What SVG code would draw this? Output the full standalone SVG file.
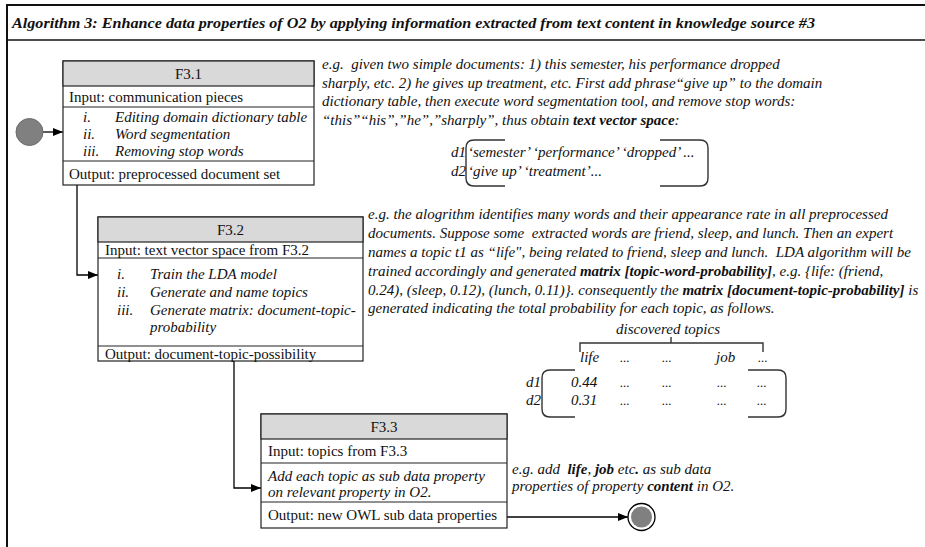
<svg xmlns="http://www.w3.org/2000/svg" width="925" height="547" viewBox="0 0 925 547">
<defs>
<marker id="arr" viewBox="0 0 10 8" refX="10" refY="4" markerWidth="10" markerHeight="8" markerUnits="userSpaceOnUse" orient="auto">
<path d="M0,0 L10,4 L0,8 Z" fill="#000"/>
</marker>
<style>
text{font-family:"Liberation Serif","Times New Roman",serif;font-size:15px;fill:#111;white-space:pre}
.it{font-style:italic}
.b{font-weight:bold}
.box{fill:#fff;stroke:#222;stroke-width:1.2}
.hd{fill:#d9d9d9;stroke:#222;stroke-width:1.2}
.ln{fill:none;stroke:#000;stroke-width:1.3}
.br{fill:none;stroke:#333;stroke-width:1.4}
.sm{font-size:13px}
</style>
</defs>
<rect width="925" height="547" fill="#fff"/>
<g id="frame">
<line x1="7" y1="5" x2="925" y2="5" stroke="#111" stroke-width="2"/>
<line x1="7" y1="40" x2="925" y2="40" stroke="#111" stroke-width="1.5"/>
<line x1="7" y1="4" x2="7" y2="547" stroke="#111" stroke-width="2"/>
<text x="12" y="28" class="it b" textLength="803" lengthAdjust="spacingAndGlyphs">Algorithm 3: Enhance data properties of O2 by applying information extracted from text content in knowledge source #3</text>
</g>
<g id="connectors">
<line x1="43" y1="132" x2="63" y2="132" class="ln" marker-end="url(#arr)"/>
<path d="M77,185 V275 H98" class="ln" marker-end="url(#arr)"/>
<path d="M234,361 V488 H261" class="ln" marker-end="url(#arr)"/>
<line x1="507" y1="517" x2="628" y2="517" class="ln" marker-end="url(#arr)"/>
</g>
<g id="start">
<circle cx="29.5" cy="132" r="13.5" fill="#808080" stroke="#6a6a6a" stroke-width="1"/>
</g>
<g id="end">
<circle cx="641.5" cy="517" r="13.5" fill="#fff" stroke="#000" stroke-width="1.3"/>
<circle cx="641.5" cy="517" r="10.5" fill="#808080"/>
</g>
<g id="F3.1">
<rect x="63" y="61" width="251" height="124" class="box"/>
<rect x="63" y="61" width="251" height="25" class="hd"/>
<line x1="63" y1="107" x2="314" y2="107" stroke="#222" stroke-width="1.2"/>
<line x1="63" y1="161" x2="314" y2="161" stroke="#222" stroke-width="1.2"/>
<text x="188.5" y="78.5" text-anchor="middle">F3.1</text>
<text x="69" y="101.5">Input: communication pieces</text>
<text x="83" y="122" class="it">i.</text><text x="115" y="122" class="it">Editing domain dictionary table</text>
<text x="83" y="139" class="it">ii.</text><text x="115" y="139" class="it">Word segmentation</text>
<text x="83" y="156" class="it">iii.</text><text x="115" y="156" class="it">Removing stop words</text>
<text x="69" y="178.5">Output: preprocessed document set</text>
</g>
<g id="F3.2">
<rect x="98" y="217" width="265" height="144" class="box"/>
<rect x="98" y="217" width="265" height="25" class="hd"/>
<line x1="98" y1="258" x2="363" y2="258" stroke="#222" stroke-width="1.2"/>
<line x1="98" y1="346" x2="363" y2="346" stroke="#222" stroke-width="1.2"/>
<text x="230.5" y="234.5" text-anchor="middle">F3.2</text>
<text x="105" y="255">Input: text vector space from F3.2</text>
<text x="117" y="279" class="it">i.</text><text x="150" y="279" class="it">Train the LDA model</text>
<text x="117" y="297" class="it">ii.</text><text x="150" y="297" class="it">Generate and name topics</text>
<text x="117" y="315" class="it">iii.</text><text x="150" y="315" class="it">Generate matrix: document-topic-</text>
<text x="150" y="332" class="it">probability</text>
<text x="105" y="358.5">Output: document-topic-possibility</text>
</g>
<g id="F3.3">
<rect x="261" y="414" width="246" height="114" class="box"/>
<rect x="261" y="414" width="246" height="25" class="hd"/>
<line x1="261" y1="463" x2="507" y2="463" stroke="#222" stroke-width="1.2"/>
<line x1="261" y1="502" x2="507" y2="502" stroke="#222" stroke-width="1.2"/>
<text x="384" y="431.5" text-anchor="middle">F3.3</text>
<text x="268" y="456">Input: topics from F3.3</text>
<text x="268" y="481" class="it">Add each topic as sub data property</text>
<text x="268" y="497" class="it">on relevant property in O2.</text>
<text x="268" y="520">Output: new OWL sub data properties</text>
</g>
<g id="note1">
<text x="322" y="69" class="it">e.g.  given two simple documents: 1) this semester, his performance dropped</text>
<text x="322" y="88" class="it">sharply, etc. 2) he gives up treatment, etc. First add phrase“give up” to the domain</text>
<text x="322" y="106" class="it">dictionary table, then execute word segmentation tool, and remove stop words:</text>
<text x="322" y="125" class="it">“this”“his”,”he”,”sharply”, thus obtain <tspan class="b">text vector space</tspan>:</text>
<text x="451" y="157" class="it">d1</text>
<text x="468" y="157" class="it">‘semester’ ‘performance’ ‘dropped’ ...</text>
<text x="451" y="176" class="it">d2</text>
<text x="468" y="176" class="it">‘give up’ ‘treatment’...</text>
<path d="M505,140 H474 Q466,140 466,148 V178 Q466,186 474,186 H505" class="br"/>
<path d="M660,140 H700 Q708,140 708,148 V178 Q708,186 700,186 H660" class="br"/>
</g>
<g id="note2">
<text x="368" y="219" class="it">e.g. the alogrithm identifies many words and their appearance rate in all preprocessed</text>
<text x="368" y="238" class="it">documents. Suppose some  extracted words are friend, sleep, and lunch. Then an expert</text>
<text x="368" y="257" class="it">names a topic t1 as “life", being related to friend, sleep and lunch.  LDA algorithm will be</text>
<text x="368" y="276" class="it">trained accordingly and generated <tspan class="b">matrix [topic-word-probability]</tspan>, e.g. {life: (friend,</text>
<text x="368" y="295" class="it">0.24), (sleep, 0.12), (lunch, 0.11)}. consequently the <tspan class="b">matrix [document-topic-probability]</tspan> is</text>
<text x="368" y="313" class="it">generated indicating the total probability for each topic, as follows.</text>
</g>
<g id="matrix">
<text x="668" y="334" class="it" text-anchor="middle">discovered topics</text>
<path d="M580,352 V343 H763 V352 M671,343 V337" class="br" stroke-width="1.1"/>
<text x="580" y="362" class="it">life</text>
<text x="620" y="362" class="it sm">...</text>
<text x="662" y="362" class="it sm">...</text>
<text x="716" y="362" class="it">job</text>
<text x="758" y="362" class="it sm">...</text>
<text x="526" y="387" class="it">d1</text>
<text x="571" y="387" class="it">0.44</text>
<text x="620" y="387" class="it sm">...</text>
<text x="662" y="387" class="it sm">...</text>
<text x="717" y="387" class="it sm">...</text>
<text x="757" y="387" class="it sm">...</text>
<text x="526" y="405" class="it">d2</text>
<text x="571" y="405" class="it">0.31</text>
<text x="620" y="405" class="it sm">...</text>
<text x="662" y="405" class="it sm">...</text>
<text x="717" y="405" class="it sm">...</text>
<text x="757" y="405" class="it sm">...</text>
<path d="M575,370 H550 Q542,370 542,378 V409 Q542,417 550,417 H575" class="br"/>
<path d="M748,370 H778 Q786,370 786,378 V409 Q786,417 778,417 H748" class="br"/>
</g>
<g id="note3">
<text x="512" y="474" class="it">e.g. add  <tspan class="b">life</tspan>, <tspan class="b">job</tspan> etc<tspan class="b">.</tspan> as sub data</text>
<text x="512" y="491" class="it">properties of property <tspan class="b">content</tspan> in O2.</text>
</g>
</svg>
